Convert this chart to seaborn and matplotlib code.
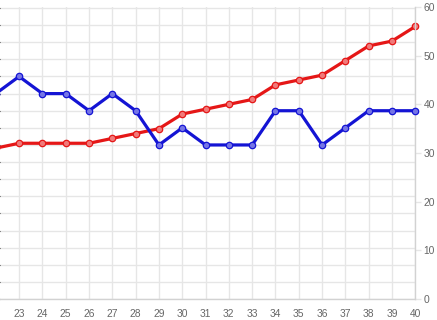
import matplotlib
matplotlib.use("Agg")
import matplotlib.pyplot as plt
import seaborn as sns
import numpy as np

# ---- data ----
x_values = [22, 23, 24, 25, 26, 27, 28, 29, 30, 31, 32, 33, 34, 35, 36, 37, 38, 39, 40]
# red series (right axis, 0-60)
red_values = [31, 32, 32, 32, 32, 33, 34, 35, 38, 39, 40, 41, 44, 45, 46, 49, 52, 53, 56]
# blue series (hidden left axis, gridline units)
blue_values = [12, 13, 12, 12, 11, 12, 11, 9, 10, 9, 9, 9, 11, 11, 9, 10, 11, 11, 11]
right_ticks = [0, 10, 20, 30, 40, 50, 60]
left_ticks = list(range(0, 18))

RED = "#e51717"
RED_FACE = "#f07a7a"
BLUE = "#1414d4"
BLUE_FACE = "#7575e6"
GRID = "#e6e6e6"
AXISC = "#d2d2d2"
LABEL = "#666666"

sns.set_style("white")
plt.rcParams["font.family"] = ["Liberation Sans", "DejaVu Sans"]

W, H = 437, 320
fig = plt.figure(figsize=(W / 100, H / 100), dpi=100)
left_px, right_px, top_px, bottom_px = 0, 415.3, 7, 299
ax = fig.add_axes([left_px / W, (H - bottom_px) / H,
                   (right_px - left_px) / W, (bottom_px - top_px) / H])

xlim = (22.18, 40)
left_ylim = (0, 17.06)

# grid axis (bottom)
ax.set_xlim(*xlim)
ax.set_ylim(*left_ylim)
ax.set_xticks(x_values)
ax.set_yticks(left_ticks)
ax.grid(True, color=GRID, linewidth=1.0)
ax.tick_params(axis="x", colors=GRID, labelcolor=LABEL, length=3, width=1,
               labelsize=7.4, pad=4)
ax.tick_params(axis="y", left=False, labelleft=False)
for s in ["top", "left", "right"]:
    ax.spines[s].set_visible(False)
ax.spines["bottom"].set_color(AXISC)
ax.spines["bottom"].set_linewidth(1.0)

# red axis (right, labelled)
ax_red = ax.twinx()
sns.lineplot(x=x_values, y=red_values, ax=ax_red, color=RED, linewidth=2.3,
             marker="o", markersize=4.6, markerfacecolor=RED_FACE,
             markeredgecolor=RED, markeredgewidth=0.9, clip_on=False)
ax_red.set_xlim(*xlim)
ax_red.set_ylim(0, 60)
ax_red.set_yticks(right_ticks)
ax_red.tick_params(axis="y", colors=GRID, labelcolor=LABEL, length=4, width=1,
                   labelsize=7.4, pad=2)
for s in ["top", "left", "bottom"]:
    ax_red.spines[s].set_visible(False)
ax_red.spines["right"].set_color(AXISC)
ax_red.spines["right"].set_linewidth(1.0)
ax_red.grid(False)

# blue on top, same scale as grid axis
ax_blue = ax.twinx()
sns.lineplot(x=x_values, y=blue_values, ax=ax_blue, color=BLUE, linewidth=2.3,
             marker="o", markersize=4.6, markerfacecolor=BLUE_FACE,
             markeredgecolor=BLUE, markeredgewidth=0.9, clip_on=False)
ax_blue.set_xlim(*xlim)
ax_blue.set_ylim(*left_ylim)
ax_blue.set_yticks([])
ax_blue.grid(False)
for s in ax_blue.spines.values():
    s.set_visible(False)

fig.savefig("out.png", dpi=100)
